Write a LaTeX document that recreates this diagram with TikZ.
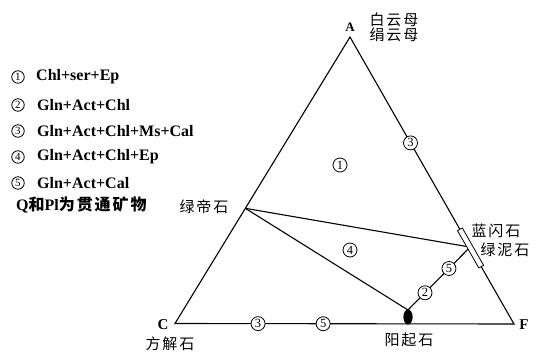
\documentclass[tikz,border=0pt]{standalone}
\usepackage{fontspec}
\setmainfont{Liberation Serif}
\newfontfamily\cjk[LetterSpace=12]{Noto Sans CJK SC}
\usetikzlibrary{calc}
\begin{document}
\begin{tikzpicture}[x=1pt,y=-1pt,
  edge/.style={line width=1.1pt},
  cnum/.style={circle,draw,fill=white,line width=0.8pt,inner sep=0pt,minimum size=14pt,font=\fontsize{12.5}{12.5}\selectfont},
  lnum/.style={circle,draw,line width=0.8pt,inner sep=0pt,minimum size=12.5pt,font=\fontsize{11}{11}\selectfont},
  legtxt/.style={anchor=west,inner sep=0pt,font=\fontsize{16}{16}\selectfont\bfseries},
  vlab/.style={inner sep=0pt,font=\fontsize{15}{15}\selectfont\bfseries},
  clab/.style={inner sep=0pt,font=\fontsize{15}{15}\selectfont\cjk}]
\useasboundingbox (0,0) rectangle (536,356);
% vertices
\coordinate (A) at (350,37);
\coordinate (C) at (175,323.5);
\coordinate (F) at (514,324);
\coordinate (Ep) at ($(A)!0.598!(C)$);
\coordinate (Gl) at ($(A)!0.732!(F)$);
\coordinate (Act) at (408,310);
% triangle
\draw[edge,line join=miter] (A) -- (C) -- (F) -- cycle;
% inner lines
\draw[edge] (Ep) -- (Gl);
\draw[edge] (Ep) -- (Act);
\draw[edge] (Act) -- (Gl);
% blob
\fill (408,317) ellipse [x radius=4.6pt, y radius=7.5pt];
% bar
\node[draw,fill=white,line width=0.8pt,rotate=-60.26,minimum width=43pt,minimum height=5.5pt,inner sep=0pt] (bar) at ($(A)!0.735!(F)$) {};
% circled numbers in diagram
\node[cnum] (n1) at (340,165) {1};
\node[cnum] (n3a) at ($(A)!0.369!(F)$) {3};
\node[cnum] (n4) at (350,250) {4};
\node[cnum] (n5a) at ($(Gl)!0.34!(Act)$) {5};
\node[cnum] (n2) at ($(Gl)!0.726!(Act)$) {2};
\node[cnum] (n3b) at ($(C)!0.245!(F)$) {3};
\node[cnum] (n5b) at ($(C)!0.437!(F)$) {5};
% vertex labels
\node[vlab,font=\fontsize{13}{13}\selectfont\bfseries] (la) at (350,27) {A};
\node[vlab] (lc) at (163,325) {C};
\node[vlab] (lf) at (524,325) {F};
% mineral labels
\node[clab] (bym) at (394,19.5) {白云母};
\node[clab] (jym) at (394,35) {绢云母};
\node[clab] (ldsh) at (204,207) {绿帝石};
\node[clab] (lss) at (496,231) {蓝闪石};
\node[clab] (lns) at (505,250) {绿泥石};
\node[clab] (fjs) at (170,344) {方解石};
\node[clab] (yqs) at (409,340) {阳起石};
% legend
\node[lnum] (l1) at (18,77) {1};
\node[legtxt] (t1) at (36,77) {Chl+ser+Ep};
\node[lnum] (l2) at (18,105) {2};
\node[legtxt] (t2) at (37,105) {Gln+Act+Chl};
\node[lnum] (l3) at (18,131) {3};
\node[legtxt] (t3) at (37,131) {Gln+Act+Chl+Ms+Cal};
\node[lnum] (l4) at (18,157) {4};
\node[legtxt] (t4) at (37,157) {Gln+Act+Chl+Ep};
\node[lnum] (l5) at (18,183) {5};
\node[legtxt] (t5) at (37,183) {Gln+Act+Cal};
\node[legtxt] (tq) at (16,205) {Q{\cjk 和}Pl{\cjk 为贯通矿物}};
\end{tikzpicture}
\end{document}
